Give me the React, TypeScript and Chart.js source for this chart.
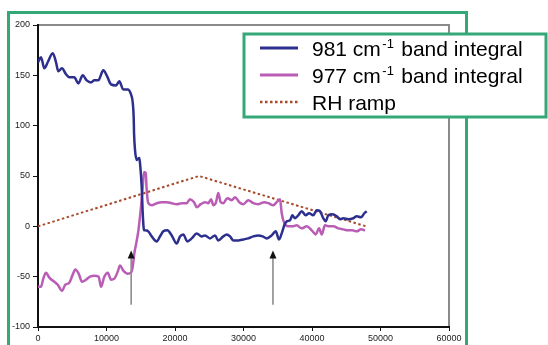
import React, { useEffect, useRef } from "react";
import { Chart, registerables } from "chart.js";

Chart.register(...registerables);

// ---- data ----
const band981: [number, number][] = [
  [0, 163], [440, 168], [920, 157], [1420, 163], [2150, 172], [2630, 163], [2960, 154],
  [3500, 157], [4090, 151], [4570, 148], [5300, 148], [5880, 142], [6530, 150], [7110, 145],
  [7740, 143], [8220, 145], [8800, 145], [9530, 155], [10030, 150], [10660, 141], [11390, 140],
  [11870, 144], [12450, 136], [13100, 136], [13580, 131], [13830, 123], [13970, 108],
  [14020, 93], [14160, 76], [14410, 66], [14790, 68], [14890, 63], [15140, 39], [15290, 13],
  [15480, -4], [15620, -4], [16100, -5], [16600, -10], [17330, -15], [17810, -10], [18290, -5],
  [18880, -4], [19520, -9], [20250, -17], [20730, -10], [21210, -8], [21800, -15], [22440, -12],
  [23170, -7], [23900, -10], [24380, -9], [25110, -12], [25840, -9], [26320, -14], [27050, -10],
  [27550, -8], [28030, -10], [28510, -14], [29240, -14], [29970, -13], [30700, -12], [31430, -10],
  [32160, -9], [32800, -10], [33390, -12], [34120, -9], [34700, -5], [35190, -13], [35580, -7],
  [35960, 1], [36310, 5], [36790, 6], [37130, 11], [37520, 8], [38000, 11], [38500, 15],
  [39080, 11], [39570, 13], [40190, 11], [40690, 16], [41170, 15], [41650, 8], [42000, 5],
  [42380, 11], [42970, 12], [43610, 10], [44090, 7], [44570, 8], [45300, 7], [46030, 8],
  [46530, 10], [47160, 9], [47640, 13], [47990, 15],
];

const band977: [number, number][] = [
  [0, -60], [440, -60], [770, -52], [1170, -46], [1650, -51], [2380, -55], [2880, -58],
  [3500, -64], [3990, -58], [4570, -56], [5070, -48], [5450, -43], [5940, -47], [6420, -55],
  [7010, -53], [7590, -50], [8220, -49], [8860, -50], [9200, -60], [9680, -50], [10180, -46],
  [10660, -53], [11140, -52], [11640, -45], [11970, -39], [12450, -44], [13100, -47], [13580, -46],
  [13830, -40], [14060, -27], [14250, -20], [14640, -5], [14990, 16], [15290, 39], [15480, 54],
  [15730, 53], [15870, 36], [16100, 23], [16600, 21], [17330, 23], [18060, 24], [18790, 24],
  [19520, 23], [20250, 22], [20980, 23], [21710, 23], [22190, 27], [22780, 24], [23170, 19],
  [23750, 22], [24380, 24], [24860, 23], [25260, 27], [25590, 21], [25990, 24], [26320, 33],
  [26670, 24], [27050, 23], [27640, 28], [28280, 26], [28760, 29], [29390, 24], [29970, 22],
  [30700, 26], [31430, 23], [32160, 22], [33040, 24], [33620, 23], [34350, 21], [34850, 24],
  [35330, 27], [35580, 13], [35960, 3], [36540, 0], [37130, 0], [37770, 1], [38500, -2],
  [39230, 0], [39960, -4], [40540, -8], [41030, -2], [41420, -8], [41900, 1], [42490, 0],
  [43110, 0], [43840, -2], [44570, -3], [45220, -4], [45890, -4], [46530, -5], [47160, -3],
  [47740, -4],
];

const rhRamp: [number, number][] = [[0, 0], [23500, 50], [47900, 0]];

const arrowXs = [13600, 34300];
const arrowTipY = -24;
const arrowTailY = -78;

const legendMain = ["981 cm", "977 cm", "RH ramp"];
const legendSup = ["-1", "-1", ""];
const legendRest = [" band integral", " band integral", ""];

const BLUE = "#2c2f8d";
const MAGENTA = "#b95db5";
const BROWN = "#a84a2a";
const GREEN = "#35a878";
const FONT = '"Liberation Sans", Arial, sans-serif';

const toPts = (a: [number, number][]) => a.map(([x, y]) => ({ x, y }));

const decorPlugin = {
  id: "decor",
  beforeDraw(chart: any) {
    const ctx = chart.ctx;
    ctx.save();
    ctx.fillStyle = "#fff";
    ctx.fillRect(0, 0, chart.width, chart.height);
    // green outer frame
    ctx.strokeStyle = GREEN;
    ctx.lineWidth = 3;
    ctx.beginPath();
    ctx.moveTo(8.5, 350);
    ctx.lineTo(8.5, 12.5);
    ctx.lineTo(466.5, 12.5);
    ctx.lineTo(466.5, 350);
    ctx.stroke();
    // gray frame of plot area (top / right)
    const a = chart.chartArea;
    ctx.strokeStyle = "#8a8a8a";
    ctx.lineWidth = 2;
    ctx.beginPath();
    ctx.moveTo(a.left, a.top);
    ctx.lineTo(a.right, a.top);
    ctx.lineTo(a.right, a.bottom);
    ctx.stroke();
    ctx.restore();
  },
  afterDraw(chart: any) {
    const ctx = chart.ctx;
    const xs = chart.scales.x;
    const ys = chart.scales.y;
    ctx.save();
    // arrows
    arrowXs.forEach((ax) => {
      const px = xs.getPixelForValue(ax);
      const tip = ys.getPixelForValue(arrowTipY);
      const tail = ys.getPixelForValue(arrowTailY);
      ctx.strokeStyle = "#8c8c8c";
      ctx.lineWidth = 1.6;
      ctx.beginPath();
      ctx.moveTo(px, tail);
      ctx.lineTo(px, tip + 6);
      ctx.stroke();
      ctx.fillStyle = "#111";
      ctx.beginPath();
      ctx.moveTo(px, tip);
      ctx.lineTo(px - 3.5, tip + 8);
      ctx.lineTo(px + 3.5, tip + 8);
      ctx.closePath();
      ctx.fill();
    });
    // legend box
    const bx = 244, by = 34, bw = 302, bh = 83;
    ctx.fillStyle = "#fff";
    ctx.fillRect(bx, by, bw, bh);
    ctx.strokeStyle = GREEN;
    ctx.lineWidth = 3;
    ctx.strokeRect(bx, by, bw, bh);
    const colors = [BLUE, MAGENTA, BROWN];
    const rowY = [48, 75, 102];
    legendMain.forEach((main, i) => {
      const y = rowY[i];
      ctx.strokeStyle = colors[i];
      ctx.lineWidth = 3;
      if (i === 2) {
        ctx.setLineDash([2.5, 2.5]);
        ctx.lineWidth = 2.5;
      } else ctx.setLineDash([]);
      ctx.beginPath();
      ctx.moveTo(260, y);
      ctx.lineTo(298, y);
      ctx.stroke();
      ctx.setLineDash([]);
      ctx.fillStyle = "#000";
      ctx.textBaseline = "alphabetic";
      ctx.textAlign = "left";
      ctx.font = `21px ${FONT}`;
      let x = 312;
      const base = y + 8;
      ctx.fillText(main, x, base);
      x += ctx.measureText(main).width;
      if (legendSup[i]) {
        ctx.font = `13px ${FONT}`;
        ctx.fillText(legendSup[i], x + 1.5, base - 8);
        x += ctx.measureText(legendSup[i]).width + 3;
        ctx.font = `21px ${FONT}`;
        ctx.fillText(legendRest[i], x, base);
      }
    });
    ctx.restore();
  },
};

export default function App() {
  const ref = useRef<HTMLCanvasElement | null>(null);
  useEffect(() => {
    if (!ref.current) return;
    const chart = new Chart(ref.current, {
      type: "line",
      data: {
        datasets: [
          {
            label: "981 cm-1 band integral",
            data: toPts(band981),
            borderColor: BLUE,
            borderWidth: 2.5,
            pointRadius: 0,
            cubicInterpolationMode: "monotone",
          },
          {
            label: "977 cm-1 band integral",
            data: toPts(band977),
            borderColor: MAGENTA,
            borderWidth: 2.5,
            pointRadius: 0,
            cubicInterpolationMode: "monotone",
          },
          {
            label: "RH ramp",
            data: toPts(rhRamp),
            borderColor: BROWN,
            borderWidth: 2,
            borderDash: [2.5, 2.5],
            pointRadius: 0,
            tension: 0,
          },
        ],
      },
      options: {
        animation: false,
        responsive: false,
        devicePixelRatio: 1,
        layout: { padding: { left: 0, top: 25, right: 99, bottom: 0 } },
        plugins: { legend: { display: false }, tooltip: { enabled: false } },
        scales: {
          x: {
            type: "linear",
            min: 0,
            max: 60000,
            afterFit: (s: any) => { s.height = 18; },
            ticks: {
              stepSize: 10000,
              color: "#222",
              font: { size: 9, family: FONT },
              padding: 2,
              maxRotation: 0,
              callback: (v: any) => String(v),
            },
            grid: { drawOnChartArea: false, drawTicks: true, tickLength: 4, color: "#111", lineWidth: 1 },
            border: { display: true, color: "#111", width: 2 },
          },
          y: {
            type: "linear",
            min: -100,
            max: 200,
            afterFit: (s: any) => { s.width = 38; },
            ticks: {
              stepSize: 50,
              color: "#222",
              font: { size: 9, family: FONT },
              padding: 3,
              callback: (v: any) => String(v),
            },
            grid: { drawOnChartArea: false, drawTicks: true, tickLength: 5, color: "#111", lineWidth: 1 },
            border: { display: true, color: "#111", width: 2 },
          },
        },
      },
      plugins: [decorPlugin],
    });
    return () => chart.destroy();
  }, []);
  return (
    <div style={{ position: "fixed", left: 0, top: 0, width: 548, height: 345, background: "#fff" }}>
      <canvas ref={ref} width={548} height={345} style={{ width: 548, height: 345, display: "block" }} />
    </div>
  );
}
